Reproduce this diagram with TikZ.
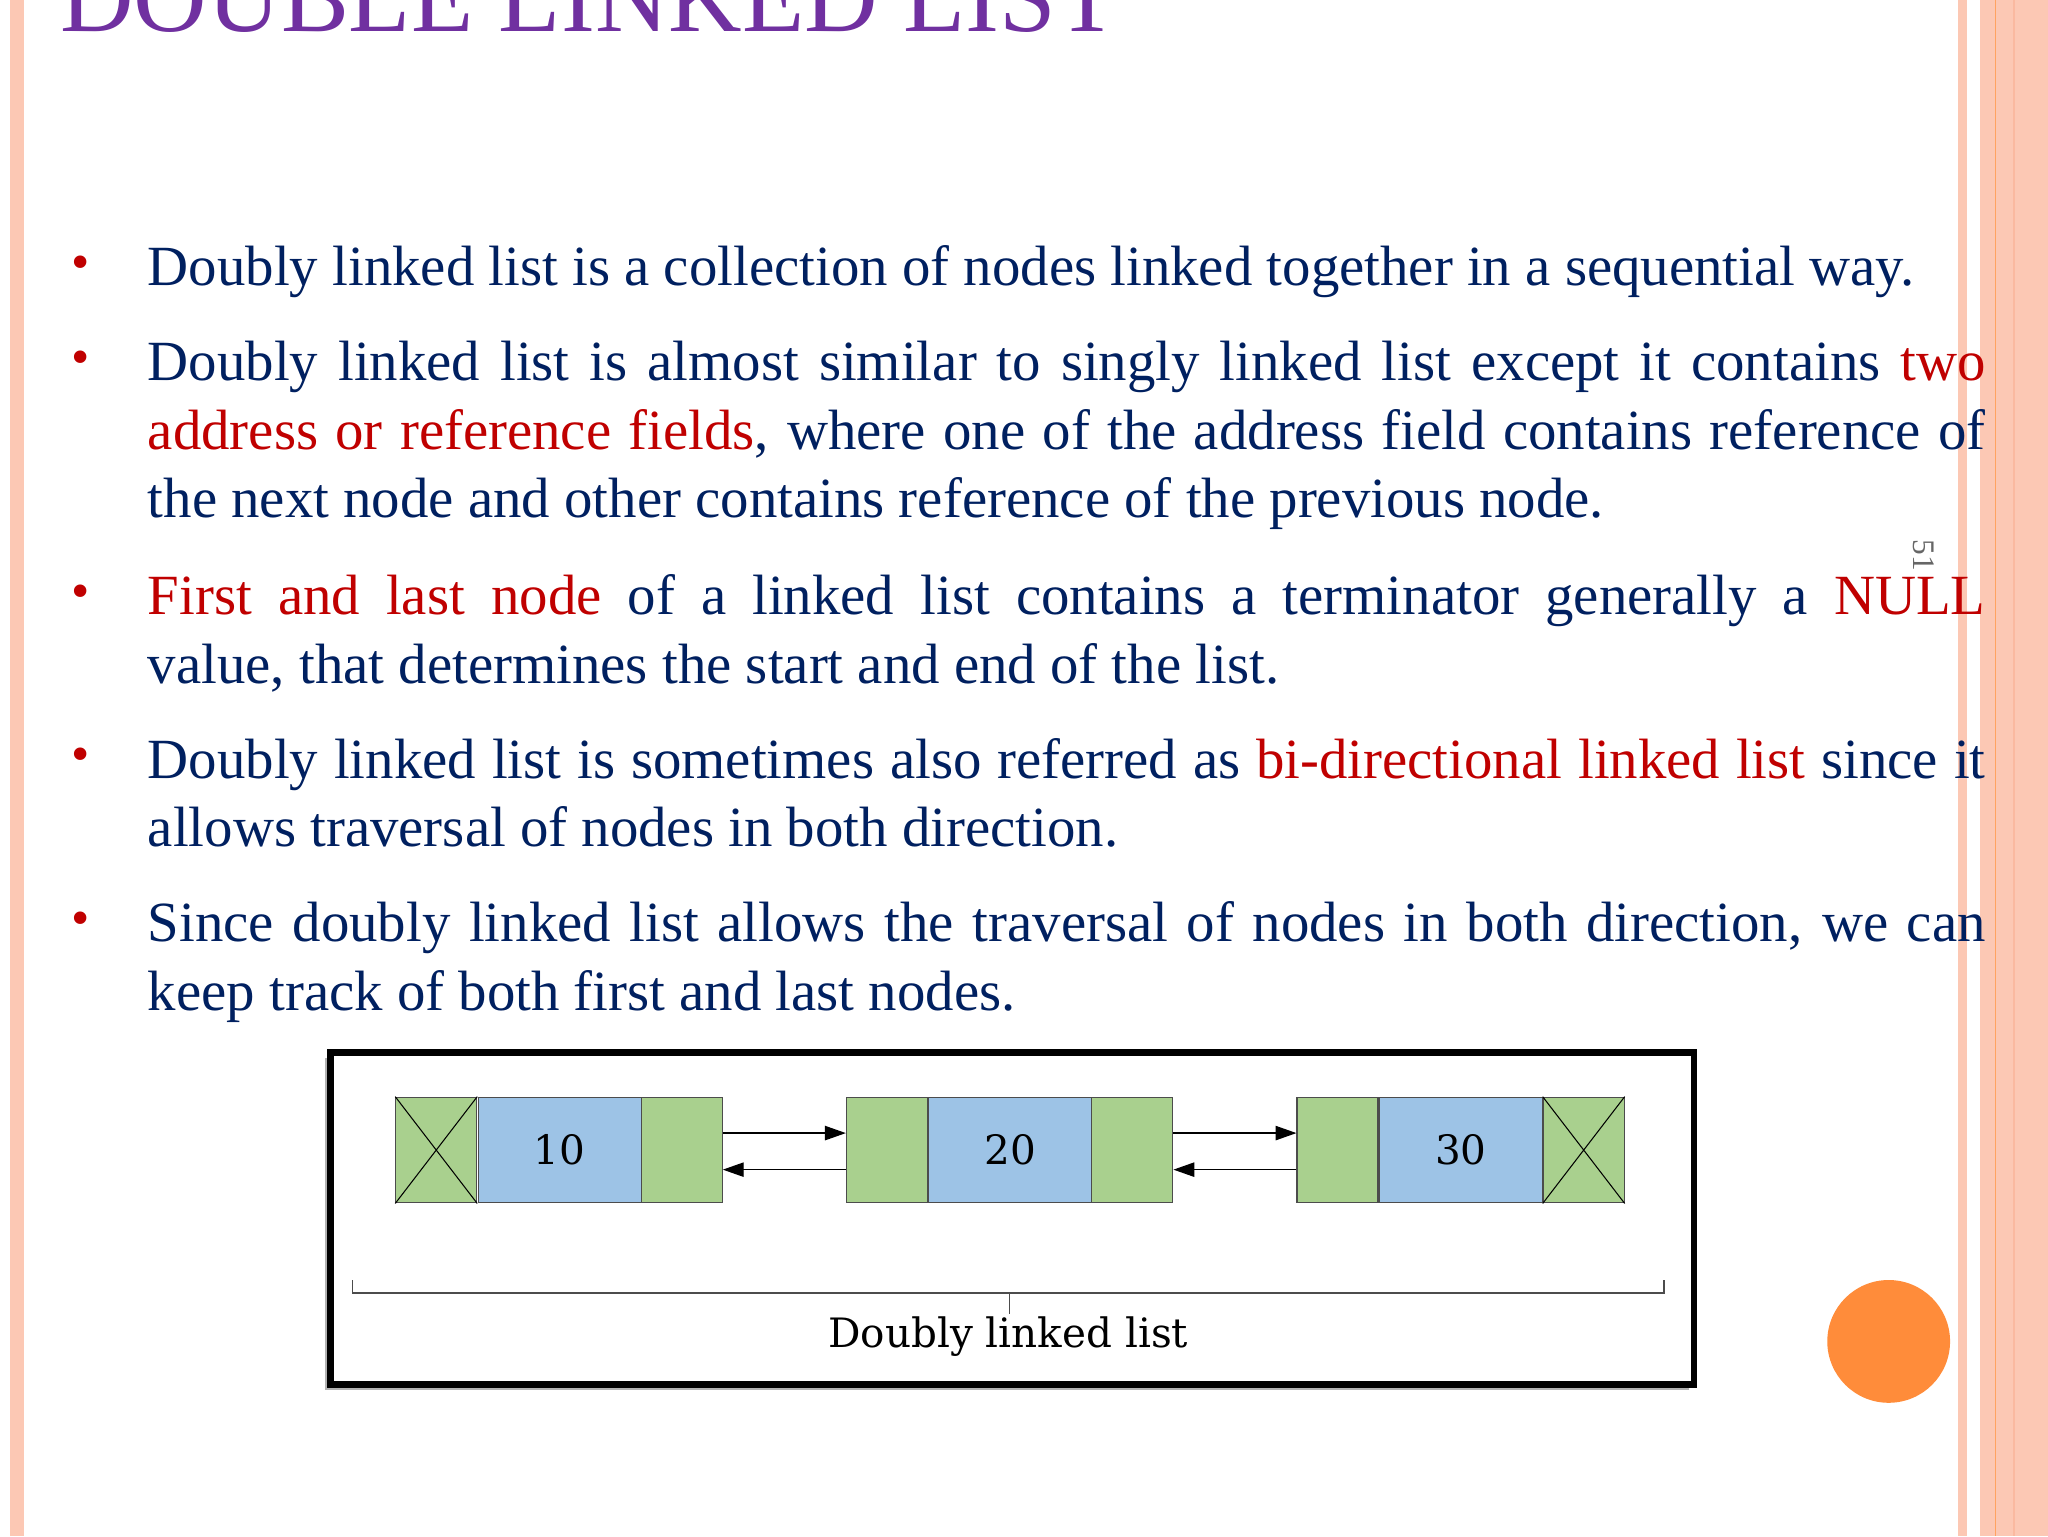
\documentclass[tikz,border=0pt]{standalone}
\usepackage{fontspec}
\setmainfont{Liberation Serif}
\newfontfamily\dejaserif{DejaVu Serif}
\usetikzlibrary{arrows.meta}
\hyphenpenalty=10000
\exhyphenpenalty=10000
\definecolor{navy}{RGB}{0,32,96}
\definecolor{rd}{RGB}{192,0,0}
\definecolor{purp}{RGB}{112,48,160}
\definecolor{salmon}{RGB}{252,200,180}
\definecolor{salmond}{RGB}{250,185,160}
\definecolor{grn}{RGB}{169,208,142}
\definecolor{blu}{RGB}{157,195,230}
\definecolor{orng}{RGB}{255,140,58}
\tikzset{
 para/.style={anchor=north west,inner sep=0pt,text width=1407pt,align=justify,text=navy,font=\fontsize{43.5}{52.5}\selectfont},
 bul/.style={anchor=base,text=rd,inner sep=0pt,font=\fontsize{40}{40}\selectfont},
 cell/.style={draw=black!70,line width=0.8pt,minimum height=81pt,inner sep=0pt,font=\dejaserif\fontsize{31}{31}\selectfont},
 gcell/.style={cell,fill=grn,minimum width=62pt},
 bcell/.style={cell,fill=blu,minimum width=125pt},
 link/.style={-{Triangle[length=16pt,width=11pt]},line width=1pt}
}
\begin{document}
\begin{tikzpicture}[x=1pt,y=-1pt]
\useasboundingbox (0,0) rectangle (1568,1176);
\fill[white] (0,0) rectangle (1568,1176);
% borders
\fill[salmon] (8,0) rectangle (18,1176);
\fill[salmon] (1499,0) rectangle (1506,1176);
\fill[salmon] (1516,0) rectangle (1568,1176);
\fill[salmond] (1541,0) rectangle (1543,1176);
\draw[orng!80,line width=1pt] (1528,0) -- (1528,1176);
% title
\node[anchor=base west,inner sep=0pt,text=purp,font=\fontsize{78}{78}\selectfont] (title) at (46,24) {DOUBLE LINKED LIST};
% page number
\node[rotate=-90,text=black!60,font=\fontsize{24}{24}\selectfont,inner sep=0pt] (pg) at (1473,425) {51};
% bullets
\foreach \y/\n in {218/b1,291/b2,470/b3,595/b4,720/b5}{\node[bul] (\n) at (62,\y-4) {\textbullet};}
\node[para] (p1) at (113,218-30) {Doubly linked list is a collection of nodes linked together in a sequential way.};
\node[para] (p2) at (113,291-30) {Doubly linked list is almost similar to singly linked list except it contains \textcolor{rd}{two}\linebreak \textcolor{rd}{address or reference fields}, where one of the address field contains reference of\linebreak the next node and other contains reference of the previous node.};
\node[para] (p3) at (113,470-30) {\textcolor{rd}{First and last node} of a linked list contains a terminator generally a \textcolor{rd}{NULL}\linebreak value, that determines the start and end of the list.};
\node[para] (p4) at (113,595-30) {Doubly linked list is sometimes also referred as \textcolor{rd}{bi-directional linked list} since it\linebreak allows traversal of nodes in both direction.};
\node[para] (p5) at (113,720-30) {Since doubly linked list allows the traversal of nodes in both direction, we can\linebreak keep track of both first and last nodes.};
% diagram frame
\fill[black!30] (249,810) rectangle (1293,1064);
\draw[line width=5pt,fill=white] (253,806) rectangle (1297,1060);
% node 1
\node[gcell] (x1) at (334,880.5) {};
\draw[line width=0.8pt] (x1.north west) -- (x1.south east) (x1.south west) -- (x1.north east);
\node[bcell] (v1) at (428.5,880.5) {10};
\node[gcell] (n1) at (522,880.5) {};
% node 2
\node[gcell] (p2c) at (679,880.5) {};
\node[bcell] (v2) at (773.5,880.5) {20};
\node[gcell] (n2) at (867,880.5) {};
% node 3
\node[gcell] (p3c) at (1024,880.5) {};
\node[bcell] (v3) at (1118.5,880.5) {30};
\node[gcell] (x3) at (1212.5,880.5) {};
\draw[line width=0.8pt] (x3.north west) -- (x3.south east) (x3.south west) -- (x3.north east);
% links
\draw[link] ([yshift=13pt]n1.east) -- ([yshift=13pt]p2c.west);
\draw[link] ([yshift=-15pt]p2c.west) -- ([yshift=-15pt]n1.east);
\draw[link] ([yshift=13pt]n2.east) -- ([yshift=13pt]p3c.west);
\draw[link] ([yshift=-15pt]p3c.west) -- ([yshift=-15pt]n2.east);
% brace
\coordinate (bl) at (270,980);
\coordinate (br) at (1274,980);
\draw[black!70,line width=1pt] (bl) -- ++(0,10) -- (1274,990) -- (br);
\draw[black!70,line width=1pt] (773,990) -- (773,1006);
\node[font=\dejaserif\fontsize{31}{31}\selectfont,anchor=base,inner sep=0pt] (lbl) at (772,1032) {Doubly linked list};
% circle
\fill[orng] (1446,1027) circle (47);
\end{tikzpicture}
\end{document}
